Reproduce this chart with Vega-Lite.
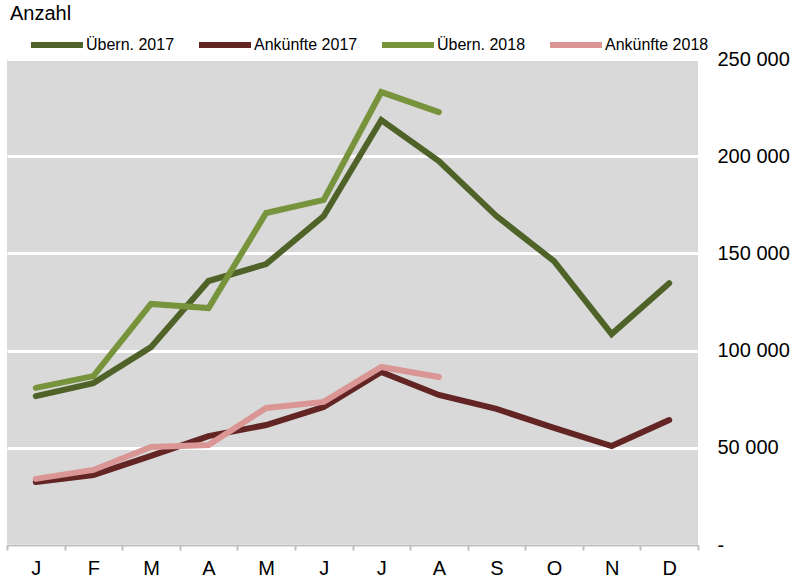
{
  "$schema": "https://vega.github.io/schema/vega-lite/v6.json",
  "width": 691,
  "height": 486,
  "autosize": {"type": "none"},
  "padding": {"left": 7, "top": 59, "right": 101, "bottom": 32},
  "background": "white",
  "title": {"text": "Anzahl", "anchor": "start", "frame": "group", "fontSize": 20, "fontWeight": "normal", "font": "Liberation Sans", "color": "black", "offset": -8, "dx": 3},
  "config": {
    "view": {"fill": "#d9d9d9", "stroke": null},
    "font": "Liberation Sans"
  },
  "data": {
    "values": [
      {"Monat": "Jan", "Serie": "Übern. 2017", "Anzahl": 76600},
      {"Monat": "Feb", "Serie": "Übern. 2017", "Anzahl": 83300},
      {"Monat": "Mar", "Serie": "Übern. 2017", "Anzahl": 101800},
      {"Monat": "Apr", "Serie": "Übern. 2017", "Anzahl": 135800},
      {"Monat": "Mai", "Serie": "Übern. 2017", "Anzahl": 144500},
      {"Monat": "Jun", "Serie": "Übern. 2017", "Anzahl": 169200},
      {"Monat": "Jul", "Serie": "Übern. 2017", "Anzahl": 218600},
      {"Monat": "Aug", "Serie": "Übern. 2017", "Anzahl": 197500},
      {"Monat": "Sep", "Serie": "Übern. 2017", "Anzahl": 169200},
      {"Monat": "Okt", "Serie": "Übern. 2017", "Anzahl": 146000},
      {"Monat": "Nov", "Serie": "Übern. 2017", "Anzahl": 108500},
      {"Monat": "Dez", "Serie": "Übern. 2017", "Anzahl": 134700},
      {"Monat": "Jan", "Serie": "Ankünfte 2017", "Anzahl": 32400},
      {"Monat": "Feb", "Serie": "Ankünfte 2017", "Anzahl": 36000},
      {"Monat": "Mar", "Serie": "Ankünfte 2017", "Anzahl": 45800},
      {"Monat": "Apr", "Serie": "Ankünfte 2017", "Anzahl": 56000},
      {"Monat": "Mai", "Serie": "Ankünfte 2017", "Anzahl": 61700},
      {"Monat": "Jun", "Serie": "Ankünfte 2017", "Anzahl": 71000},
      {"Monat": "Jul", "Serie": "Ankünfte 2017", "Anzahl": 89000},
      {"Monat": "Aug", "Serie": "Ankünfte 2017", "Anzahl": 77200},
      {"Monat": "Sep", "Serie": "Ankünfte 2017", "Anzahl": 70000},
      {"Monat": "Okt", "Serie": "Ankünfte 2017", "Anzahl": 60200},
      {"Monat": "Nov", "Serie": "Ankünfte 2017", "Anzahl": 50900},
      {"Monat": "Dez", "Serie": "Ankünfte 2017", "Anzahl": 64300},
      {"Monat": "Jan", "Serie": "Übern. 2018", "Anzahl": 80800},
      {"Monat": "Feb", "Serie": "Übern. 2018", "Anzahl": 86900},
      {"Monat": "Mar", "Serie": "Übern. 2018", "Anzahl": 124000},
      {"Monat": "Apr", "Serie": "Übern. 2018", "Anzahl": 121900},
      {"Monat": "Mai", "Serie": "Übern. 2018", "Anzahl": 170800},
      {"Monat": "Jun", "Serie": "Übern. 2018", "Anzahl": 177500},
      {"Monat": "Jul", "Serie": "Übern. 2018", "Anzahl": 233000},
      {"Monat": "Aug", "Serie": "Übern. 2018", "Anzahl": 222700},
      {"Monat": "Jan", "Serie": "Ankünfte 2018", "Anzahl": 34000},
      {"Monat": "Feb", "Serie": "Ankünfte 2018", "Anzahl": 38600},
      {"Monat": "Mar", "Serie": "Ankünfte 2018", "Anzahl": 50400},
      {"Monat": "Apr", "Serie": "Ankünfte 2018", "Anzahl": 51400},
      {"Monat": "Mai", "Serie": "Ankünfte 2018", "Anzahl": 70500},
      {"Monat": "Jun", "Serie": "Ankünfte 2018", "Anzahl": 73600},
      {"Monat": "Jul", "Serie": "Ankünfte 2018", "Anzahl": 91600},
      {"Monat": "Aug", "Serie": "Ankünfte 2018", "Anzahl": 86400}
    ]
  },
  "mark": {"type": "line", "strokeWidth": 6, "strokeJoin": "miter", "strokeCap": "round"},
  "encoding": {
    "x": {
      "field": "Monat",
      "type": "ordinal",
      "sort": ["Jan", "Feb", "Mar", "Apr", "Mai", "Jun", "Jul", "Aug", "Sep", "Okt", "Nov", "Dez"],
      "scale": {"type": "band", "paddingInner": 0, "paddingOuter": 0},
      "axis": {
        "title": null,
        "tickBand": "extent",
        "labelExpr": "substring(datum.label, 0, 1)",
        "labelAngle": 0,
        "labelFontSize": 20,
        "labelColor": "black",
        "labelPadding": 8,
        "domainColor": "#bfbfbf",
        "domainWidth": 2,
        "tickColor": "#bfbfbf",
        "tickWidth": 2,
        "tickSize": 5,
        "grid": false
      }
    },
    "y": {
      "field": "Anzahl",
      "type": "quantitative",
      "scale": {"domain": [0, 250000], "nice": false},
      "axis": {
        "orient": "right",
        "title": null,
        "values": [0, 50000, 100000, 150000, 200000, 250000],
        "labelExpr": "datum.value == 0 ? '-' : replace(format(datum.value, ','), ',', ' ')",
        "labelFontSize": 20,
        "labelColor": "black",
        "labelPadding": 19,
        "ticks": false,
        "domain": false,
        "grid": true,
        "gridColor": "white",
        "gridWidth": 3
      }
    },
    "color": {
      "field": "Serie",
      "type": "nominal",
      "scale": {
        "domain": ["Übern. 2017", "Ankünfte 2017", "Übern. 2018", "Ankünfte 2018"],
        "range": ["#4f6228", "#632523", "#77933c", "#d99694"]
      },
      "legend": {
        "title": null,
        "orient": "none",
        "direction": "horizontal",
        "columns": 4,
        "legendX": 21,
        "legendY": -43,
        "symbolType": "stroke",
        "symbolSize": 2704,
        "symbolStrokeWidth": 6,
        "labelFontSize": 16,
        "labelColor": "black",
        "labelOffset": 0,
        "columnPadding": 12
      }
    }
  }
}
